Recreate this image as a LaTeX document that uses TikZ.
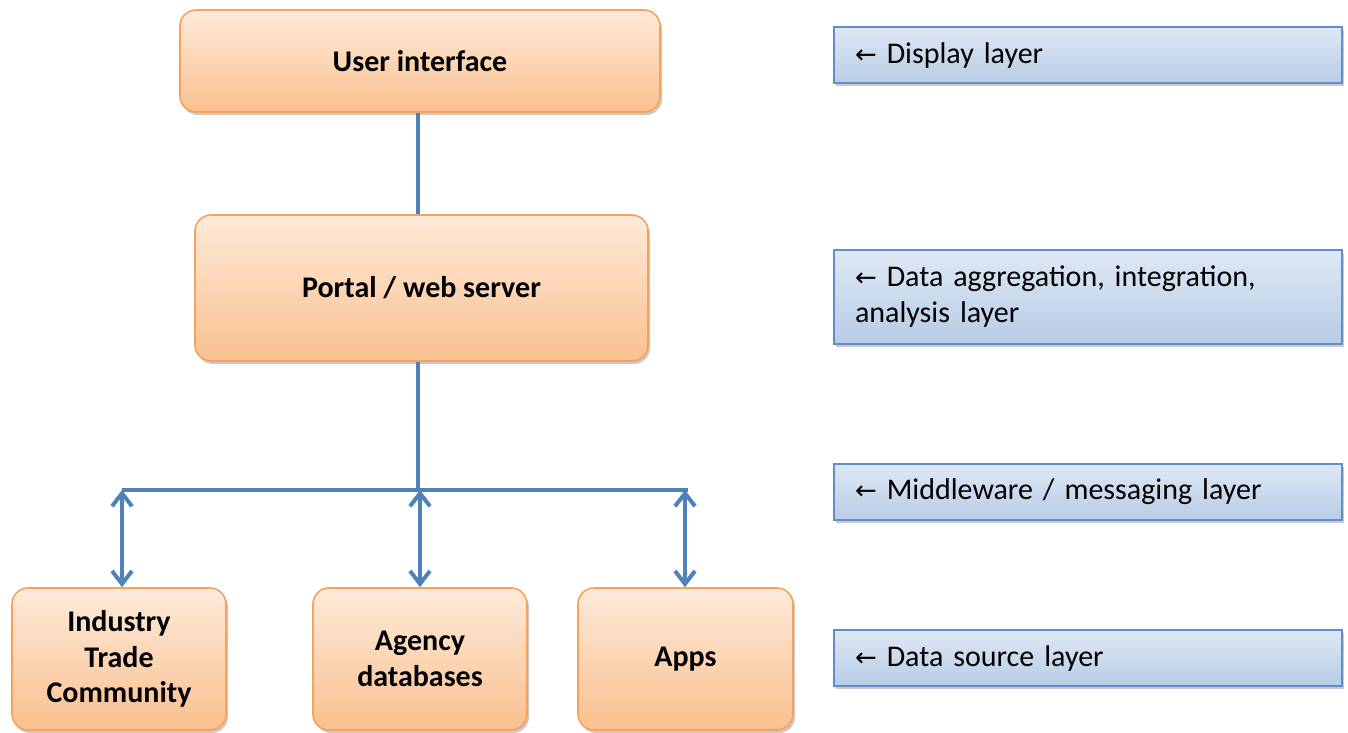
\documentclass[tikz,border=0pt]{standalone}
\usepackage{fontspec}
\setmainfont{Carlito}
\newfontfamily\symf{DejaVu Sans}
\usetikzlibrary{arrows.meta,shadows,calc}
\definecolor{orb}{RGB}{247,162,92}
\definecolor{ortop}{RGB}{253,234,218}
\definecolor{orbot}{RGB}{250,192,143}
\definecolor{blb}{RGB}{95,142,200}
\definecolor{bltop}{RGB}{222,232,244}
\definecolor{blbot}{RGB}{184,204,230}
\definecolor{conn}{RGB}{79,129,189}
\tikzset{
  obox/.style={draw=orb, line width=1.6pt, rounded corners=16pt, top color=ortop, bottom color=orbot,
    font=\bfseries\fontsize{30}{35.5}\selectfont, align=center, inner sep=0pt,
    drop shadow={shadow xshift=2pt, shadow yshift=-3pt, opacity=0.35, fill=black!60}},
  lbox/.style={draw=blb, line width=1.6pt, top color=bltop, bottom color=blbot,
    font=\fontsize{30}{36}\selectfont, align=left, inner sep=0pt, minimum width=508pt, text width=466pt,
    drop shadow={shadow xshift=2pt, shadow yshift=-3pt, opacity=0.35, fill=black!60}},
  conline/.style={draw=conn, line width=4pt},
  dbl/.style={conn, line width=4pt, {Straight Barb[length=13pt,width=20pt,line width=4pt]}-{Straight Barb[length=13pt,width=20pt,line width=4pt]}}
}
\newcommand{\la}{{\symf\fontsize{26}{30}\selectfont ←}\ }
\begin{document}
\begin{tikzpicture}[x=1pt,y=-1pt]
\useasboundingbox (0,0) rectangle (1348,732);
% orange boxes
\node[obox, minimum width=480pt, minimum height=102pt] (ui) at (420,61) {User interface};
\node[obox, minimum width=453pt, minimum height=146pt] (portal) at (421.5,288) {Portal / web server};
\node[obox, minimum width=214pt, minimum height=142pt] (ind) at (119,659) {Industry\\Trade\\Community};
\node[obox, minimum width=214pt, minimum height=142pt] (agency) at (420,659) {Agency\\databases};
\node[obox, minimum width=215pt, minimum height=142pt] (apps) at (685.5,659) {Apps};
% layer boxes
\node[lbox, minimum height=56pt] (l1) at (1088,55) {\la Display layer};
\node[lbox, minimum height=94pt] (l2) at (1088,297) {\la Data aggregation, integration,\\analysis layer};
\node[lbox, minimum height=56pt] (l3) at (1088,492) {\la Middleware / messaging layer};
\node[lbox, minimum height=56pt] (l4) at (1088,658) {\la Data source layer};
% connectors
\coordinate (bl) at (122,490);
\coordinate (bm) at (420,490);
\coordinate (br) at (688,490);
\draw[conline] ($(ui.south)+(-2,0)$) -- ($(portal.north)+(-3.5,0)$);
\draw[conline] ($(portal.south)+(-3.5,0)$) -- ($(bm)+(-2,0)$);
\draw[conline] (bl) -- (br);
\draw[dbl] (bl) -- ($(ind.north)+(3,0)$);
\draw[dbl] (bm) -- (agency.north);
\draw[dbl] ($(br)+(-3,0)$) -- ($(apps.north)+(-0.5,0)$);
\end{tikzpicture}
\end{document}
